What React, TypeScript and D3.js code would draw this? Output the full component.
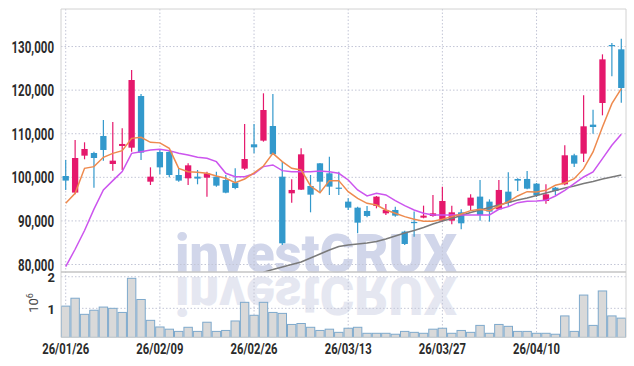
import React from 'react';
import * as d3 from 'd3';

// trading days (YY/MM/DD)
const dates: string[] = [
  '26/01/26', '26/01/27', '26/01/28', '26/01/29', '26/01/30',
  '26/02/02', '26/02/03', '26/02/04', '26/02/05', '26/02/06',
  '26/02/09', '26/02/10', '26/02/11', '26/02/12', '26/02/13',
  '26/02/19', '26/02/20', '26/02/23', '26/02/24', '26/02/25',
  '26/02/26', '26/02/27', '26/03/03', '26/03/04', '26/03/05',
  '26/03/06', '26/03/09', '26/03/10', '26/03/11', '26/03/12',
  '26/03/13', '26/03/16', '26/03/17', '26/03/18', '26/03/19',
  '26/03/20', '26/03/23', '26/03/24', '26/03/25', '26/03/26',
  '26/03/27', '26/03/30', '26/03/31', '26/04/01', '26/04/02',
  '26/04/03', '26/04/06', '26/04/07', '26/04/08', '26/04/09',
  '26/04/10', '26/04/13', '26/04/14', '26/04/15', '26/04/16',
  '26/04/17', '26/04/20', '26/04/21', '26/04/22', '26/04/23',
];

const open: number[] = [
  100300, 96500, 104970, 105580, 109480, 103060, 107190, 106800, 118650, 99000,
  105810, 105810, 100530, 99770, 100150, 99920, 100150, 99390, 98780, 101990,
  107570, 108410, 111770, 100150, 96330, 97170, 98010, 103210, 100920, 97630,
  94420, 93040, 92280, 93430, 91740, 92510, 87540, 89760, 90750, 91130,
  90060, 90060, 91970, 93500, 95570, 94420, 92660, 96710, 99620, 99620,
  98550, 94570, 97630, 98390, 105050, 105430, 112080, 117050, 130350, 129360,
];
const high: number[] = [
  104000, 108560, 108030, 105890, 113150, 112690, 111240, 124620, 119110, 102290,
  106270, 106270, 102060, 103210, 101680, 101300, 101300, 100530, 102060, 112230,
  112230, 119270, 119110, 103590, 99540, 106650, 100530, 103300, 104740, 101300,
  95180, 93270, 93430, 95720, 93880, 93270, 87770, 92130, 93500, 95950,
  97860, 93500, 92660, 96100, 99390, 94950, 99390, 101150, 99770, 101450,
  98700, 98390, 97780, 107340, 105430, 118810, 115520, 128210, 130810, 131800,
];
const low: number[] = [
  97100, 96100, 104130, 97630, 103820, 101530, 101680, 105890, 103980, 98240,
  100690, 100000, 99000, 98240, 98400, 95570, 97860, 96330, 97250, 101680,
  105500, 108180, 105120, 84480, 94190, 97100, 91970, 96480, 95950, 95950,
  92510, 87160, 90830, 92890, 91360, 90980, 84480, 86390, 90600, 90980,
  89830, 89220, 88070, 92510, 90060, 89830, 92510, 93270, 96870, 97250,
  95490, 93960, 95870, 98170, 102370, 103520, 110010, 114220, 123160, 117120,
];
const close: number[] = [
  99250, 104430, 106500, 104430, 106270, 103820, 107650, 122320, 105660, 100150,
  102290, 100530, 99240, 102750, 99700, 100920, 98090, 96480, 97550, 104200,
  106880, 115440, 105270, 84860, 97100, 105270, 96020, 99000, 97860, 97480,
  93040, 89600, 91130, 95570, 92510, 91210, 84710, 89530, 91210, 91740,
  94570, 91970, 89450, 95340, 91360, 92130, 97100, 94190, 99240, 97400,
  95870, 96100, 96870, 105050, 103130, 111700, 111540, 127060, 130120, 120490,
];
// volume in millions
const volumeM: number[] = [
  1.07, 1.32, 0.81, 0.94, 1.04, 1.0, 0.87, 1.95, 1.28, 0.62,
  0.41, 0.34, 0.27, 0.4, 0.27, 0.56, 0.27, 0.3, 0.6, 1.19,
  0.78, 1.19, 0.87, 0.84, 0.49, 0.52, 0.4, 0.3, 0.34, 0.24,
  0.37, 0.4, 0.21, 0.21, 0.21, 0.18, 0.27, 0.24, 0.21, 0.34,
  0.37, 0.21, 0.3, 0.24, 0.46, 0.21, 0.49, 0.43, 0.27, 0.27,
  0.21, 0.21, 0.18, 0.76, 0.27, 1.42, 0.46, 1.55, 0.76, 0.69,
];
// moving averages
const maShort: number[] = [
  94040, 96330, 102060, 102450, 104590, 105500, 106120, 108940, 109170, 108030,
  107900, 106650, 102060, 101300, 101150, 100920, 100300, 99770, 98780, 99620,
  101000, 102600, 105500, 103590, 102060, 101680, 98010, 96480, 99240, 99240,
  96710, 95180, 94040, 93650, 92510, 91740, 90980, 90370, 89910, 89910,
  90370, 90980, 91590, 92360, 92660, 92360, 93430, 94420, 95720, 96710,
  96640, 97020, 98170, 98700, 99690, 101990, 105810, 111540, 116900, 120340,
];
const maMid: number[] = [
  79510, 83500, 87800, 92700, 97100, 99240, 101300, 105500, 105890, 106270,
  106420, 106120, 105500, 105120, 104590, 104360, 103590, 100920, 100150, 100150,
  100800, 102450, 102830, 101530, 101300, 101300, 101300, 101450, 101300, 100920,
  99390, 97100, 95720, 96330, 95950, 94650, 93500, 92510, 91740, 91360,
  91360, 91360, 91360, 91360, 91360, 91360, 92660, 93270, 94190, 94500,
  94550, 94720, 95720, 97020, 98550, 100080, 101220, 104280, 107340, 109860,
];
const maLong: (number | null)[] = [
  null, null, null, null, null, null, null, null, null, null,
  null, null, null, null, null, null, null, null, null, null,
  null, 78250, 78850, 79420, 80000, 80570, 81490, 82410, 83320, 84130,
  84470, 84700, 84930, 85270, 85850, 86530, 87220, 87800, 88490, 89290,
  89980, 90550, 91240, 91930, 92500, 93080, 93650, 94220, 94790, 95250,
  95830, 96400, 96970, 97550, 98010, 98580, 99040, 99610, 100070, 100530,
];

const priceTicks = [80000, 90000, 100000, 110000, 120000, 130000];
const volTicks = [1, 2];
const labelEvery = 10;

const W = 634;
const H = 366;
const left = 61;
const right = 626;
const top = 9;
const mid = 272;
const bottom = 337.4;

const upColor = '#e5186c';
const downColor = '#3399cc';
const gridColor = '#c3c6d6';

export default function App() {
  const idx = d3.range(dates.length);
  const x = d3.scaleBand<number>().domain(idx).range([left, right]).padding(0);
  const bw = x.bandwidth();
  const cx = (i: number) => (x(i) as number) + bw / 2;
  const yP = d3.scaleLinear().domain([78280, 138610]).range([mid, top]);
  const yV = d3.scaleLinear().domain([0.08, 2.15]).range([bottom, mid]);

  const line = d3
    .line<number | null>()
    .defined((d) => d != null)
    .x((_, i) => cx(i))
    .y((d) => yP(d as number));

  const bodyW = bw * 0.67;
  const fmt = d3.format(',');

  return (
    <svg width={W} height={H} style={{ position: 'absolute', left: 0, top: 0, background: '#fff' }}>
      <defs>
        <clipPath id="pricePanel">
          <rect x={left} y={top} width={right - left} height={mid - top} />
        </clipPath>
      </defs>

      {/* watermark + reflection */}
      <g fontFamily="Roboto" fontWeight={900} fontSize={54}>
        <text x={175} y={mid} fill="#d1d6ea" textLength={282} lengthAdjust="spacingAndGlyphs">
          investCRUX
        </text>
        <g transform={`translate(0,${2 * 274.5}) scale(1,-1)`}>
          <text x={175} y={mid} fill="#e5e7f1" textLength={282} lengthAdjust="spacingAndGlyphs">
            investCRUX
          </text>
        </g>
      </g>

      {/* grid */}
      <g stroke={gridColor} strokeWidth={1} strokeDasharray="1.5,2">
        {priceTicks.map((t) => (
          <line key={'p' + t} x1={left} x2={right} y1={yP(t)} y2={yP(t)} />
        ))}
        {volTicks.map((t) => (
          <line key={'v' + t} x1={left} x2={right} y1={yV(t)} y2={yV(t)} />
        ))}
        {idx
          .filter((i) => i % labelEvery === 0)
          .map((i) => (
            <line key={'x' + i} x1={cx(i)} x2={cx(i)} y1={top} y2={bottom} />
          ))}
      </g>

      {/* volume */}
      <g>
        {volumeM.map((v, i) => (
          <rect
            key={'vb' + i}
            x={(x(i) as number) + 0.5}
            y={yV(v)}
            width={bw - 1}
            height={bottom - yV(v)}
            fill="#d9d9d9"
            stroke="#7ea9cc"
            strokeWidth={1}
          />
        ))}
      </g>

      {/* candles */}
      <g clipPath="url(#pricePanel)">
        {idx.map((i) => {
          const up = close[i] >= open[i];
          const c = up ? upColor : downColor;
          const yTop = yP(Math.max(open[i], close[i]));
          const yBot = yP(Math.min(open[i], close[i]));
          return (
            <g key={'c' + i}>
              <line x1={cx(i)} x2={cx(i)} y1={yP(high[i])} y2={yP(low[i])} stroke={c} strokeWidth={1.2} />
              <rect
                x={cx(i) - bodyW / 2}
                y={yTop}
                width={bodyW}
                height={Math.max(1.2, yBot - yTop)}
                fill={c}
              />
            </g>
          );
        })}
        <path d={line(maLong) || ''} fill="none" stroke="#7a7a7a" strokeWidth={1.5} />
        <path d={line(maMid) || ''} fill="none" stroke="#cc55ee" strokeWidth={1.5} />
        <path d={line(maShort) || ''} fill="none" stroke="#ee8a4e" strokeWidth={1.5} />
      </g>

      {/* frame */}
      <g stroke="#d2d2d2" strokeWidth={1} fill="none">
        <line x1={left} x2={right} y1={top} y2={top} />
        <line x1={left} x2={left} y1={top} y2={bottom} />
        <line x1={right} x2={right} y1={top} y2={bottom} />
        <line x1={left} x2={right} y1={bottom} y2={bottom} />
      </g>
      <line x1={left} x2={right} y1={mid} y2={mid} stroke="#c4c4c4" strokeWidth={1.5} />

      {/* price labels */}
      <g fontFamily="Roboto" fontWeight={700} fontSize={16} fill="#2b2b2b" textAnchor="end">
        {priceTicks.map((t) => (
          <text key={'pl' + t} transform={`translate(54,${yP(t) + 6}) scale(0.72,1)`}>
            {fmt(t)}
          </text>
        ))}
      </g>

      {/* volume labels */}
      <g fontFamily="Roboto" fontWeight={700} fontSize={13} fill="#2b2b2b" textAnchor="end">
        {volTicks.map((t) => (
          <text key={'vl' + t} x={55} y={yV(t) + 5.5}>
            {t}
          </text>
        ))}
      </g>
      <text
        transform="translate(38,303) rotate(-90)"
        fontFamily="Roboto"
        fontSize={13}
        fill="#444"
        textAnchor="middle"
      >
        10<tspan dy={-5} fontSize={9}>6</tspan>
      </text>

      {/* date labels */}
      <g fontFamily="Roboto" fontWeight={700} fontSize={15} fill="#2b2b2b" textAnchor="middle">
        {idx
          .filter((i) => i % labelEvery === 0)
          .map((i) => (
            <text key={'dl' + i} transform={`translate(${cx(i)},354) scale(0.75,1)`}>
              {dates[i]}
            </text>
          ))}
      </g>
    </svg>
  );
}
